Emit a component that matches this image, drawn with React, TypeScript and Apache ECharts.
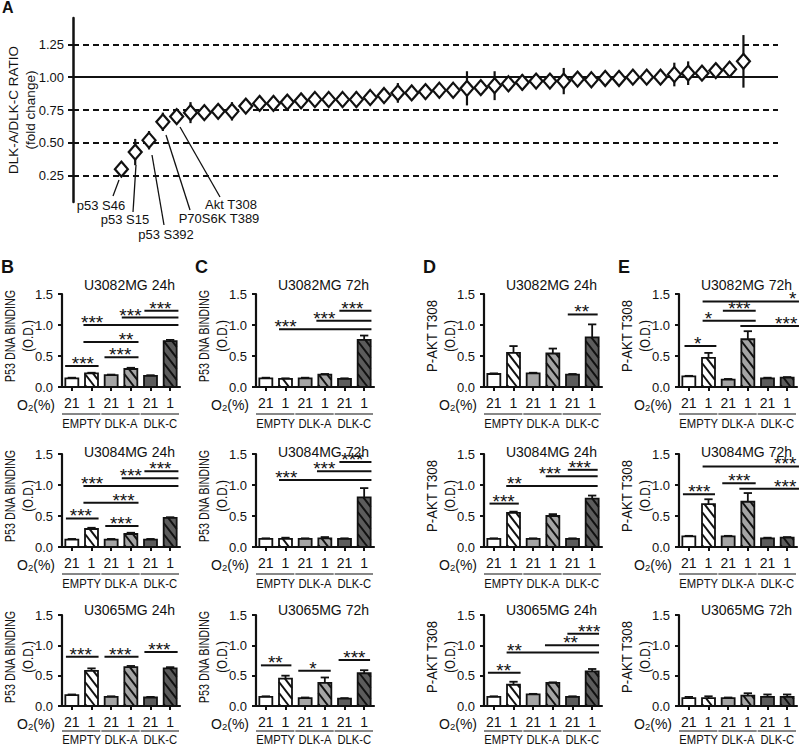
import React, { useEffect, useRef } from 'react';
import * as echarts from 'echarts';

const FONT = '"Liberation Sans", Arial, Helvetica, sans-serif';

// ---------------- Panel A data ----------------
const ratioValues = [0.30, 0.43, 0.52, 0.66, 0.70, 0.73, 0.73, 0.74, 0.74, 0.78, 0.80, 0.80, 0.81, 0.82, 0.83, 0.83, 0.83, 0.83, 0.845, 0.86, 0.88, 0.88, 0.89, 0.90, 0.90, 0.915, 0.92, 0.935, 0.95, 0.96, 0.97, 0.97, 0.97, 0.985, 0.98, 0.99, 0.99, 1.00, 1.00, 1.00, 1.02, 1.03, 1.03, 1.05, 1.06, 1.12];
const ratioErrors = [0.02, 0.10, 0.07, 0.07, 0.02, 0.08, 0.02, 0.02, 0.07, 0.02, 0.02, 0.02, 0.02, 0.06, 0.02, 0.02, 0.02, 0.06, 0.02, 0.02, 0.075, 0.02, 0.02, 0.02, 0.02, 0.13, 0.02, 0.11, 0.03, 0.06, 0.02, 0.02, 0.10, 0.02, 0.04, 0.02, 0.04, 0.02, 0.02, 0.02, 0.09, 0.09, 0.02, 0.02, 0.06, 0.20];
const ratioTicks = [0.25, 0.5, 0.75, 1.0, 1.25];
const ratioRefLines = [0.25, 0.5, 0.75, 1.0, 1.25];
const siteLabels = ['p53 S46', 'p53 S15', 'p53 S392', 'P70S6K T389', 'Akt T308'];

// ---------------- Bar panels data ----------------
const o2Labels = ['21', '1', '21', '1', '21', '1'];
const groupLabels = ['EMPTY', 'DLK-A', 'DLK-C'];
const panelLetters = ['B', 'C', 'D', 'E'];
const yTitles = ['P53 DNA BINDING', 'P53 DNA BINDING', 'P-AKT T308', 'P-AKT T308'];
const titlesRow1 = ['U3082MG 24h', 'U3082MG 72h', 'U3082MG 24h', 'U3082MG 72h'];
const titlesRow2 = ['U3084MG 24h', 'U3084MG 72h', 'U3084MG 24h', 'U3084MG 72h'];
const titlesRow3 = ['U3065MG 24h', 'U3065MG 72h', 'U3065MG 24h', 'U3065MG 72h'];

// row 1
const b1Values = [0.14, 0.22, 0.19, 0.29, 0.18, 0.74];
const b1Err = [0.01, 0.01, 0.01, 0.02, 0.01, 0.02];
const c1Values = [0.14, 0.13, 0.14, 0.20, 0.13, 0.76];
const c1Err = [0.01, 0.01, 0.01, 0.01, 0.01, 0.07];
const d1Values = [0.21, 0.55, 0.22, 0.54, 0.20, 0.80];
const d1Err = [0.01, 0.11, 0.01, 0.08, 0.01, 0.21];
const e1Values = [0.17, 0.47, 0.12, 0.77, 0.14, 0.15];
const e1Err = [0.01, 0.08, 0.01, 0.13, 0.01, 0.01];
// row 2
const b2Values = [0.12, 0.29, 0.12, 0.21, 0.12, 0.47];
const b2Err = [0.01, 0.02, 0.01, 0.02, 0.01, 0.01];
const c2Values = [0.13, 0.13, 0.13, 0.14, 0.13, 0.80];
const c2Err = [0.01, 0.02, 0.01, 0.02, 0.01, 0.15];
const d2Values = [0.13, 0.55, 0.13, 0.50, 0.13, 0.78];
const d2Err = [0.01, 0.02, 0.01, 0.03, 0.01, 0.05];
const e2Values = [0.17, 0.69, 0.17, 0.73, 0.14, 0.15];
const e2Err = [0.01, 0.08, 0.01, 0.14, 0.01, 0.01];
// row 3
const b3Values = [0.18, 0.58, 0.15, 0.64, 0.14, 0.62];
const b3Err = [0.01, 0.04, 0.01, 0.02, 0.01, 0.02];
const c3Values = [0.15, 0.45, 0.13, 0.38, 0.12, 0.54];
const c3Err = [0.01, 0.05, 0.01, 0.09, 0.01, 0.05];
const d3Values = [0.15, 0.35, 0.19, 0.38, 0.15, 0.57];
const d3Err = [0.01, 0.05, 0.01, 0.01, 0.01, 0.04];
const e3Values = [0.13, 0.13, 0.13, 0.17, 0.15, 0.15];
const e3Err = [0.02, 0.03, 0.01, 0.04, 0.04, 0.04];

// significance brackets: [fromBar, toBar, yValue, starPosition] (bar-index units)
const b1Sig = [[-0.34, 1.36, 0.34, 0.56], [1.66, 3.39, 0.48, 2.46], [0.59, 3.39, 0.725, 2.76], [0.59, 5.42, 1.0, 1.03], [2.54, 5.42, 1.12, 2.98], [3.69, 5.42, 1.23, 4.5]];
const b1Stars = ['***', '***', '**', '***', '***', '***'];
const c1Sig = [[0.67, 5.37, 0.93, 1.0], [2.57, 5.37, 1.07, 2.97], [3.74, 5.37, 1.23, 4.4]];
const c1Stars = ['***', '***', '***'];
const d1Sig = [[3.76, 5.28, 1.17, 4.47]];
const d1Stars = ['**'];
const e1Sig = [[-0.22, 1.4, 0.66, 0.45], [0.7, 3.4, 1.07, 1.0], [1.73, 3.4, 1.23, 2.57], [2.62, 5.6, 0.985, 4.95], [0.7, 5.6, 1.38, 5.28]];
const e1Stars = ['*', '*', '***', '***', '*'];
const b2Sig = [[-0.3, 1.36, 0.46, 0.46], [1.7, 3.39, 0.34, 2.5], [0.59, 3.39, 0.715, 2.63], [0.59, 5.42, 0.985, 1.03], [2.54, 5.42, 1.11, 3.0], [3.69, 5.42, 1.22, 4.5]];
const b2Stars = ['***', '***', '***', '***', '***', '***'];
const c2Sig = [[0.67, 5.37, 1.08, 1.04], [2.6, 5.37, 1.22, 2.97], [3.74, 5.37, 1.37, 4.4]];
const c2Stars = ['***', '***', '***'];
const d2Sig = [[-0.22, 1.27, 0.70, 0.5], [0.63, 5.28, 0.985, 1.05], [2.64, 5.28, 1.14, 2.85], [3.76, 5.28, 1.245, 4.37]];
const d2Stars = ['***', '**', '***', '***'];
const e2Sig = [[-0.3, 1.33, 0.85, 0.53], [1.7, 3.4, 1.03, 2.57], [2.57, 5.6, 0.94, 4.9], [0.7, 5.6, 1.30, 4.9]];
const e2Stars = ['***', '***', '***', '***'];
const b3Sig = [[-0.3, 1.36, 0.81, 0.45], [1.66, 3.39, 0.81, 2.46], [3.69, 5.38, 0.89, 4.45]];
const b3Stars = ['***', '***', '***'];
const c3Sig = [[-0.25, 1.3, 0.67, 0.48], [1.65, 3.3, 0.58, 2.4], [3.7, 5.3, 0.76, 4.5]];
const c3Stars = ['**', '*', '***'];
const d3Sig = [[-0.3, 1.36, 0.55, 0.5], [0.65, 5.35, 0.88, 1.05], [2.6, 5.35, 1.0, 3.9], [3.74, 5.35, 1.19, 4.85]];
const d3Stars = ['**', '**', '**', '***'];
const e3Sig: number[][] = [];
const e3Stars: string[] = [];

// ---------------- layout (styling only) ----------------
const colLeft = [62, 256, 484, 679];
const rowTop = [294, 454, 615];
const plotH = [93, 93, 91];
const plotW = 118;
const titleOffset = [-9, -2, -5];
const groupLineOffset = [27, 27, 25];
const groupTextOffset = [37, 37, 34];
const barFills = ['#ffffff', '#ffffff', '#a5a5a5', '#a5a5a5', '#5c5c5c', '#5c5c5c'];
const leaderLines = [
  [119, 180, 113, 196], [136, 165, 133, 212], [152, 155, 164, 225], [166, 135, 190, 210], [180, 127, 220, 197],
];
const leaderText = [[101, 205], [125, 219], [166, 234], [219, 218], [231, 204]];

function txt(text: string, x: number, y: number, o: any = {}) {
  const align = o.align || 'center';
  const va = o.va || 'middle';
  return {
    type: 'text', x, y, rotation: o.rot || 0, scaleX: o.sx || 1, scaleY: o.sy || 1, silent: true, z: 50,
    style: {
      text, font: o.font || `13px ${FONT}`, fill: '#111',
      textAlign: align, align, textVerticalAlign: va, verticalAlign: va,
      rich: o.rich,
    },
  };
}
function seg(x1: number, y1: number, x2: number, y2: number, w = 1.3) {
  return { type: 'line', silent: true, z: 50, shape: { x1, y1, x2, y2 }, style: { stroke: '#111', lineWidth: w } };
}

function renderBar(params: any, api: any) {
  const i = api.value(0);
  const v = api.value(1);
  const e = api.value(2);
  const top = api.coord([i, v]);
  const bot = api.coord([i, 0]);
  const band = api.size([1, 0])[0];
  const w = band * 0.66;
  const cx = top[0];
  const x0 = cx - w / 2, x1 = cx + w / 2, y0 = top[1], y1 = bot[1];
  const children: any[] = [];
  children.push({ type: 'rect', shape: { x: x0, y: y0, width: w, height: y1 - y0 }, style: { fill: barFills[i], stroke: null } });
  if (i % 2 === 1) {
    const s = 1.3, d = 11;
    for (let k = y1 - 2; k > y0 - s * w; k -= d) {
      let xa = x0, ya = k, xb = x1, yb = k + s * w;
      if (ya < y0) { xa = x0 + (y0 - k) / s; ya = y0; }
      if (yb > y1) { xb = x0 + (y1 - k) / s; yb = y1; }
      if (xb > xa) children.push({ type: 'line', shape: { x1: xa, y1: ya, x2: xb, y2: yb }, style: { stroke: '#111', lineWidth: 2 } });
    }
  }
  children.push({ type: 'rect', shape: { x: x0, y: y0, width: w, height: y1 - y0 }, style: { fill: null, stroke: '#111', lineWidth: 1.8 } });
  if (e > 0) {
    const et = api.coord([i, v + e])[1];
    children.push({ type: 'line', shape: { x1: cx, y1: y0, x2: cx, y2: et }, style: { stroke: '#111', lineWidth: 1.8 } });
    children.push({ type: 'line', shape: { x1: cx - w * 0.32, y1: et, x2: cx + w * 0.32, y2: et }, style: { stroke: '#111', lineWidth: 1.8 } });
  }
  return { type: 'group', children };
}

function makeSigRenderer(stars: string[]) {
  return (params: any, api: any) => {
    const p = api.coord([0, api.value(1)]);
    const band = api.size([1, 0])[0];
    const xa = p[0] + api.value(2) * band;
    const xb = p[0] + api.value(3) * band;
    const xs = p[0] + api.value(4) * band;
    return {
      type: 'group',
      children: [
        { type: 'line', shape: { x1: xa, y1: p[1], x2: xb, y2: p[1] }, style: { stroke: '#111', lineWidth: 2 } },
        {
          type: 'text', x: xs, y: p[1] + 7,
          style: { text: stars[params.dataIndex], font: `19px ${FONT}`, fill: '#111', textAlign: 'center', align: 'center', textVerticalAlign: 'bottom', verticalAlign: 'bottom' },
        },
      ],
    };
  };
}

function buildOption() {
  const grid: any[] = [];
  const xAxis: any[] = [];
  const yAxis: any[] = [];
  const series: any[] = [];
  const graphic: any[] = [];

  // ---------- Panel A ----------
  grid.push({ left: 73, top: 18, width: 705, height: 184 });
  xAxis.push({ gridIndex: 0, type: 'value', min: -2.5, max: 48.5, show: false });
  yAxis.push({
    gridIndex: 0, type: 'value', min: 0.05, max: 1.45,
    axisLine: { show: true, onZero: false, lineStyle: { color: '#111', width: 2.5 } },
    axisTick: { show: true, length: 5, customValues: ratioTicks, lineStyle: { color: '#111', width: 2 } },
    axisLabel: { customValues: ratioTicks, formatter: (v: number) => v.toFixed(2), fontSize: 13, fontFamily: FONT, color: '#111', margin: 9 },
    splitLine: { show: false },
  });
  series.push({
    type: 'custom', xAxisIndex: 0, yAxisIndex: 0, clip: false, z: 2,
    data: ratioValues.map((v, i) => [i + 1, v, ratioErrors[i]]),
    encode: { x: 0, y: 1 },
    renderItem: (params: any, api: any) => {
      const x = api.value(0), v = api.value(1), e = api.value(2);
      const a = api.coord([x, v - e]);
      const b = api.coord([x, v + e]);
      return { type: 'line', shape: { x1: a[0], y1: a[1], x2: b[0], y2: b[1] }, style: { stroke: '#111', lineWidth: 2.2 } };
    },
  });
  series.push({
    type: 'scatter', xAxisIndex: 0, yAxisIndex: 0, z: 5,
    data: ratioValues.map((v, i) => [i + 1, v]),
    symbol: 'diamond', symbolSize: [13, 15],
    itemStyle: { color: '#fff', borderColor: '#111', borderWidth: 2.2, opacity: 1 },
    markLine: {
      silent: true, symbol: ['none', 'none'], label: { show: false }, z: 1,
      data: ratioRefLines.map((v) => ({ yAxis: v, lineStyle: { color: '#111', width: 2, type: v === 1 ? 'solid' : [6, 4] } })),
    },
  });
  graphic.push(txt('A', 2, 7, { font: `bold 16px ${FONT}`, align: 'left' }));
  graphic.push(txt('DLK-A/DLK-C RATIO', 13, 110, { rot: Math.PI / 2, font: `13.5px ${FONT}` }));
  graphic.push(txt('(fold change)', 30, 110, { rot: Math.PI / 2, font: `13.5px ${FONT}` }));
  siteLabels.forEach((s, k) => {
    const l = leaderLines[k];
    graphic.push(seg(l[0], l[1], l[2], l[3], 1.3));
    graphic.push(txt(s, leaderText[k][0], leaderText[k][1], { font: `13px ${FONT}` }));
  });

  // ---------- Bar panels ----------
  const panels = [
    [[b1Values, b1Err, b1Sig, b1Stars], [c1Values, c1Err, c1Sig, c1Stars], [d1Values, d1Err, d1Sig, d1Stars], [e1Values, e1Err, e1Sig, e1Stars]],
    [[b2Values, b2Err, b2Sig, b2Stars], [c2Values, c2Err, c2Sig, c2Stars], [d2Values, d2Err, d2Sig, d2Stars], [e2Values, e2Err, e2Sig, e2Stars]],
    [[b3Values, b3Err, b3Sig, b3Stars], [c3Values, c3Err, c3Sig, c3Stars], [d3Values, d3Err, d3Sig, d3Stars], [e3Values, e3Err, e3Sig, e3Stars]],
  ];
  const rowTitles = [titlesRow1, titlesRow2, titlesRow3];

  for (let r = 0; r < 3; r++) {
    for (let c = 0; c < 4; c++) {
      const g = grid.length;
      const [vals, errs, sig, stars] = panels[r][c] as any;
      const left = colLeft[c];
      const top = rowTop[r];
      const h = plotH[r];
      grid.push({ left, top, width: plotW, height: h });
      xAxis.push({
        gridIndex: g, type: 'category', data: o2Labels, boundaryGap: true,
        axisLine: { show: true, lineStyle: { color: '#111', width: 2.2 } },
        axisTick: { show: true, alignWithLabel: true, length: 4, lineStyle: { color: '#111', width: 2 } },
        axisLabel: { interval: 0, fontSize: 14, fontFamily: FONT, color: '#111', margin: 9 },
        splitLine: { show: false },
      });
      yAxis.push({
        gridIndex: g, type: 'value', min: 0, max: 1.5, interval: 0.5,
        axisLine: { show: true, onZero: false, lineStyle: { color: '#111', width: 2.2 } },
        axisTick: { show: true, length: 4, lineStyle: { color: '#111', width: 2 } },
        axisLabel: { formatter: (v: number) => v.toFixed(1), fontSize: 13, fontFamily: FONT, color: '#111', margin: 9 },
        splitLine: { show: false },
      });
      series.push({
        type: 'custom', xAxisIndex: g, yAxisIndex: g, clip: false, z: 2,
        data: vals.map((v: number, i: number) => [i, v, errs[i]]),
        encode: { x: 0, y: 1 },
        renderItem: renderBar,
      });
      if (sig.length) {
        series.push({
          type: 'custom', xAxisIndex: g, yAxisIndex: g, clip: false, z: 3,
          data: sig.map((s: number[]) => [0, s[2], s[0], s[1], s[3]]),
          encode: { x: 0, y: 1 },
          renderItem: makeSigRenderer(stars),
        });
      }
      // texts
      const bottom = top + h;
      const band = plotW / 6;
      if (r === 0) graphic.push(txt(panelLetters[c], left - 61, 267, { font: `bold 18px ${FONT}`, align: 'left' }));
      graphic.push(txt(rowTitles[r][c], left + plotW - 5, top + titleOffset[r], { font: `14px ${FONT}`, align: 'right' }));
      const sxTitle = c < 2 ? 0.72 : 0.88;
      graphic.push(txt(yTitles[c], left - 52, top + 42, { rot: Math.PI / 2, font: `15px ${FONT}`, sx: sxTitle }));
      graphic.push(txt('(O.D.)', left - 34, top + 42, { rot: Math.PI / 2, font: `14.5px ${FONT}`, sx: 0.8 }));
      graphic.push(txt('{o|O}{s|2}{o|(%)}', left - 7, bottom + 18, {
        align: 'right',
        rich: { o: { font: `14px ${FONT}`, fill: '#111' }, s: { font: `9.5px ${FONT}`, fill: '#111', verticalAlign: 'bottom' } },
      }));
      for (let k = 0; k < 3; k++) {
        const c0 = left + (2 * k + 0.5) * band;
        const c1 = left + (2 * k + 1.5) * band;
        graphic.push(seg(c0 - band * 0.5, bottom + groupLineOffset[r], c1 + band * 0.45, bottom + groupLineOffset[r], 1.2));
        graphic.push(txt(groupLabels[k], (c0 + c1) / 2, bottom + groupTextOffset[r], { font: `12.5px ${FONT}`, sx: 0.9 }));
      }
    }
  }

  return {
    animation: false,
    backgroundColor: '#ffffff',
    textStyle: { fontFamily: FONT },
    grid, xAxis, yAxis, series, graphic,
  };
}

export default function App() {
  const ref = useRef<HTMLDivElement>(null);
  useEffect(() => {
    document.body.style.margin = '0';
    const chart = echarts.init(ref.current as HTMLDivElement, null, { renderer: 'svg' });
    chart.setOption(buildOption() as any);
    return () => chart.dispose();
  }, []);
  return <div ref={ref} style={{ width: 800, height: 747, position: 'absolute', left: 0, top: 0, background: '#fff' }} />;
}
